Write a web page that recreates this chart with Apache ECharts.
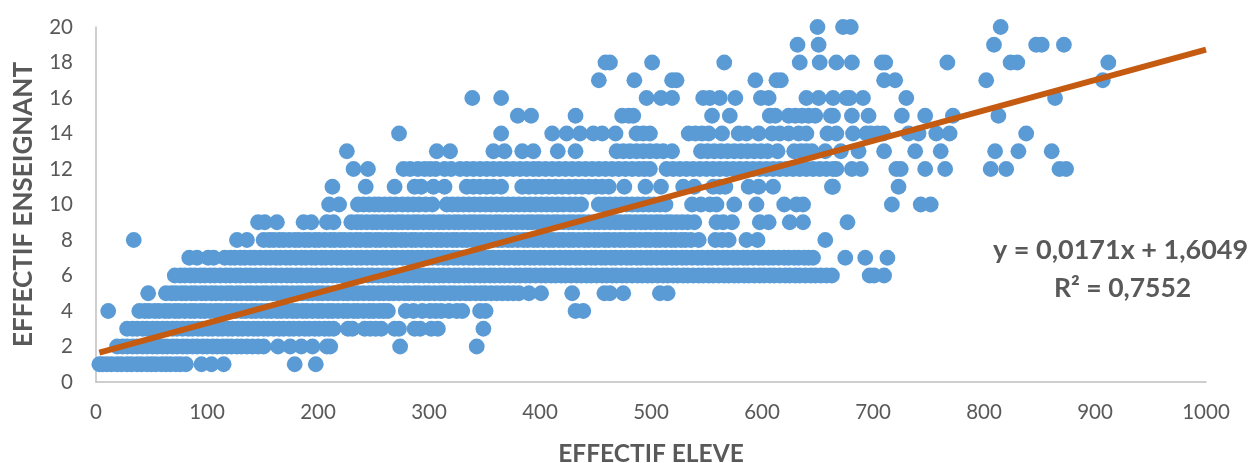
<!DOCTYPE html>
<html><head><meta charset="utf-8">
<style>html,body{margin:0;padding:0;background:#fff}#c{width:1253px;height:463px}</style>
<script src="https://cdn.jsdelivr.net/npm/echarts@6/dist/echarts.min.js"></script>
</head><body><div id="c"></div>
<script>
const xAxisTitle = 'EFFECTIF ELEVE';
const yAxisTitle = 'EFFECTIF ENSEIGNANT';
const equationLine = 'y = 0,0171x + 1,6049';
const r2Line = 'R² = 0,7552';
const trendX = [3, 1000];
const trendY = [1.65, 18.72];

const level1 = [3,6,10,14,19,23,28,32,37,41,46,50,54,59,63,67,72,76,81,95,104,115,179,198];
const level2 = [19,24,28,33,37,42,46,51,55,60,64,69,73,78,82,87,91,96,100,105,109,114,118,122,127,131,136,141,146,151,164,175,185,195,208,211,274,343];
const level3 = [28,33,37,42,46,51,55,60,64,69,73,78,83,87,92,96,101,105,110,114,119,123,128,132,137,142,146,151,155,160,165,169,174,178,183,188,192,197,201,206,210,214,227,231,242,247,252,257,269,273,287,292,302,308,349];
const level4 = [11,39,44,48,53,57,62,66,71,75,80,85,89,94,98,103,108,112,117,121,126,131,135,140,144,149,154,158,163,167,172,177,181,186,190,195,200,204,209,213,218,223,227,232,236,241,246,250,255,259,263,279,286,294,301,306,311,318,325,330,346,351,432,439];
const level5 = [47,63,68,72,77,81,86,90,95,99,104,108,113,118,122,127,131,136,140,145,150,154,159,163,168,172,177,182,186,191,195,200,204,209,214,218,223,227,232,236,241,246,250,255,259,264,268,273,278,282,287,291,296,300,305,310,314,319,323,328,333,337,342,347,351,356,361,366,371,376,381,390,401,429,458,463,475,508,515];
const level6 = [71,76,80,85,89,94,98,103,107,112,117,121,126,130,135,139,144,149,153,158,162,167,172,176,181,185,190,194,199,204,208,213,217,222,227,231,236,240,245,249,254,259,263,268,272,277,281,286,291,295,300,304,309,313,318,323,327,332,336,341,346,350,355,359,364,368,373,378,382,387,391,396,401,405,410,414,419,423,428,433,437,442,446,451,456,460,465,469,474,478,483,488,492,497,501,506,511,515,520,524,529,533,538,543,547,552,556,561,566,570,575,579,584,588,593,598,602,607,611,616,621,625,630,634,639,644,648,653,658,663,697,701,710];
const level7 = [84,91,101,106,116,121,125,130,134,139,143,148,153,157,162,166,171,175,180,185,189,194,198,203,207,212,217,221,226,230,235,239,244,249,253,258,262,267,271,276,281,285,290,294,299,303,308,313,317,322,326,331,336,340,345,349,354,358,363,368,372,377,381,386,391,395,400,404,409,413,418,423,427,432,436,441,446,450,455,459,464,468,473,478,482,487,491,496,500,505,510,514,519,523,528,532,537,542,546,551,555,560,565,569,574,578,583,587,592,597,601,606,610,615,620,624,629,633,638,642,646,675,693,713];
const level8 = [34,127,136,151,156,160,165,169,174,179,183,188,192,197,201,206,211,215,220,224,229,234,238,243,247,252,256,261,266,270,275,279,284,288,293,298,302,307,311,316,321,325,330,334,339,343,348,353,357,362,366,371,375,380,385,389,394,398,403,408,412,417,421,426,430,435,440,444,449,453,458,462,467,472,476,481,485,490,495,499,504,508,513,518,522,527,531,536,543,558,564,570,586,596,657];
const level9 = [146,152,163,187,194,208,214,230,235,239,244,249,253,258,263,267,272,276,281,286,290,295,300,304,309,313,318,323,327,332,337,341,346,350,355,360,364,369,374,379,384,389,393,398,402,407,412,416,421,426,430,435,439,444,449,453,458,463,468,472,477,481,486,491,495,500,505,509,514,518,523,528,533,539,559,565,573,598,606,625,637,677];
const level10 = [210,219,236,241,246,251,255,260,265,270,276,281,286,291,297,303,316,321,326,331,336,341,346,351,356,361,366,371,376,381,386,391,396,401,406,411,416,421,427,432,437,453,458,463,468,473,478,483,488,493,498,503,508,513,537,545,553,559,575,595,620,631,637,717,743,752];
const level11 = [213,243,269,287,293,304,314,334,340,346,352,358,365,384,390,396,402,408,414,420,426,432,438,444,450,456,462,476,495,509,529,539,556,562,567,588,597,610,663,664,723];
const level12 = [232,245,277,283,290,296,301,306,314,320,328,334,340,346,352,358,364,370,376,382,388,394,399,405,411,417,423,429,435,441,447,453,459,465,471,477,483,489,494,499,514,520,526,532,538,544,550,556,562,568,574,580,586,592,598,604,610,616,622,628,634,640,646,652,658,664,667,681,689,721,725,747,765,806,820,868,874];
const level13 = [226,307,319,358,368,384,394,416,432,469,475,481,487,493,499,505,511,519,545,551,557,563,569,575,581,587,593,599,605,614,629,635,640,645,657,671,687,710,738,761,810,831,861];
const level14 = [273,365,411,424,436,448,456,468,487,493,499,534,540,546,552,564,579,586,597,609,616,624,633,640,659,667,682,694,698,704,709,732,741,757,769,838];
const level15 = [380,392,432,474,480,484,555,571,607,612,624,630,636,642,648,662,664,681,696,726,747,772,813];
const level16 = [339,365,496,509,519,547,553,562,576,599,606,640,651,664,676,679,691,730,864];
const level17 = [453,485,519,523,594,613,617,710,720,802,907];
const level18 = [459,463,501,566,634,652,667,681,708,711,767,824,830,912];
const level19 = [632,651,809,847,852,872];
const level20 = [650,673,680,815];

const levels = [level1,level2,level3,level4,level5,level6,level7,level8,level9,level10,level11,level12,level13,level14,level15,level16,level17,level18,level19,level20];
const points = [];
levels.forEach((xs, i) => xs.forEach(x => points.push([x, i + 1])));
const trend = trendX.map((x, i) => [x, trendY[i]]);

const chart = echarts.init(document.getElementById('c'), null, {renderer: 'canvas'});
const FONT = 'Lato';
chart.setOption({
  animation: false,
  backgroundColor: '#fff',
  grid: {left: 96, right: 47, top: 27, bottom: 81, outerBoundsMode: 'none'},
  xAxis: {
    type: 'value', min: 0, max: 1000, interval: 100,
    name: xAxisTitle, nameLocation: 'middle', nameGap: 60,
    nameTextStyle: {fontFamily: FONT, fontWeight: 'bold', fontSize: 24.5, color: '#595959'},
    axisLine: {show: true, lineStyle: {color: '#BFBFBF', width: 1.5}},
    axisTick: {show: false}, splitLine: {show: false},
    axisLabel: {fontFamily: FONT, fontSize: 20.5, color: '#595959', margin: 20, formatter: v => String(v)}
  },
  yAxis: {
    type: 'value', min: 0, max: 20, interval: 2,
    name: yAxisTitle, nameLocation: 'middle', nameGap: 59,
    nameTextStyle: {fontFamily: FONT, fontWeight: 'bold', fontSize: 26, color: '#595959'},
    axisLine: {show: true, lineStyle: {color: '#BFBFBF', width: 1.5}},
    axisTick: {show: false}, splitLine: {show: false},
    axisLabel: {fontFamily: FONT, fontSize: 20.5, color: '#595959', margin: 23}
  },
  series: [
    {type: 'scatter', data: points, symbol: 'circle', symbolSize: 15.8, clip: false,
     itemStyle: {color: '#5B9BD5', opacity: 1}, silent: true, large: false, progressive: 0},
    {type: 'line', data: trend, symbol: 'none', clip: false, silent: true,
     lineStyle: {color: '#C55A11', width: 6, cap: 'butt'}, z: 5}
  ],
  graphic: [
    {type: 'text', left: 993, top: 237, z: 10, silent: true,
     style: {text: equationLine, font: 'bold 27px ' + FONT, fill: '#595959'}},
    {type: 'text', left: 1054, top: 275, z: 10, silent: true,
     style: {text: r2Line, font: 'bold 26.5px ' + FONT, fill: '#595959'}}
  ]
});
</script></body></html>
